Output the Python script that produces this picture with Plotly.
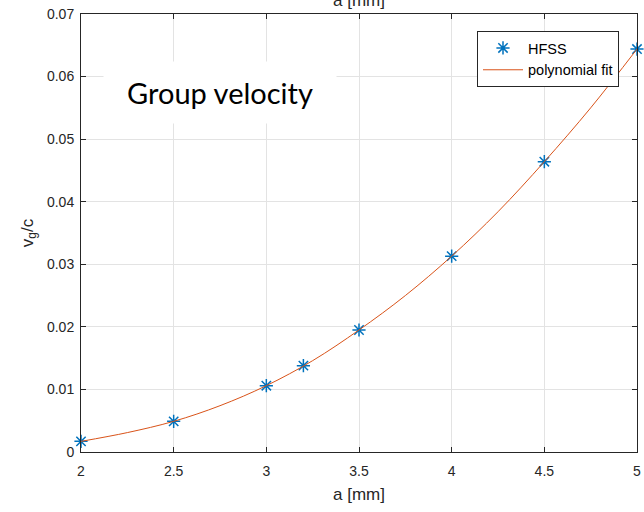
import plotly.graph_objects as go

# HFSS data points
a_mm = [2.0, 2.5, 3.0, 3.2, 3.5, 4.0, 4.5, 5.0]
vg_c = [0.0017, 0.0049, 0.0106, 0.0138, 0.0195, 0.0313, 0.0464, 0.0644]

# polynomial fit curve
fit_a = [2.0, 2.25, 2.5, 2.75, 3.0, 3.25, 3.5, 3.75, 4.0, 4.25, 4.5, 4.75, 5.0]
fit_v = [0.0017, 0.0031, 0.0049, 0.0074, 0.0106, 0.0146, 0.0195, 0.0250, 0.0313, 0.0384, 0.0464, 0.0550, 0.0644]

x_ticks = [2, 2.5, 3, 3.5, 4, 4.5, 5]
x_tick_text = ["2", "2.5", "3", "3.5", "4", "4.5", "5"]
y_ticks = [0, 0.01, 0.02, 0.03, 0.04, 0.05, 0.06, 0.07]
y_tick_text = ["0", "0.01", "0.02", "0.03", "0.04", "0.05", "0.06", "0.07"]

W, H = 644, 512
L, R, T, B = 81, 7, 14, 60
pw, ph = W - L - R, H - T - B

fig = go.Figure()
fig.add_trace(go.Scatter(
    x=a_mm, y=vg_c, mode="markers", name="HFSS",
    marker=dict(symbol="asterisk-open", size=11, color="#0072BD",
                line=dict(color="#0072BD", width=1.5)),
    cliponaxis=False,
))
fig.add_trace(go.Scatter(
    x=fit_a, y=fit_v, mode="lines", name="polynomial fit",
    line=dict(color="#D95319", width=1, shape="spline"),
))

axis_common = dict(
    showline=True, linecolor="#262626", linewidth=1, mirror="ticks",
    ticks="inside", ticklen=5, tickcolor="#262626",
    showgrid=True, gridcolor="#e3e3e3", gridwidth=1,
    zeroline=False, automargin=False, ticklabeloverflow="allow",
    tickfont=dict(family="Liberation Sans, Arial", size=14, color="#262626"),
)

fig.update_xaxes(range=[2, 5], tickvals=x_ticks, ticktext=x_tick_text,
                 ticklabelstandoff=6,
                 title=dict(text="a [mm]", font=dict(family="Liberation Sans, Arial", size=17, color="#262626"), standoff=10),
                 **axis_common)
fig.update_yaxes(range=[0, 0.07], tickvals=y_ticks, ticktext=y_tick_text,
                 ticklabelstandoff=3,
                 title=dict(text="v<sub>g</sub>/c", font=dict(family="Liberation Sans, Arial", size=17, color="#262626"), standoff=9),
                 **axis_common)

fig.add_annotation(
    xref="paper", yref="paper", x=(220 - L) / pw, y=(H - B - 92) / ph,
    text="Group velocity", showarrow=False,
    font=dict(family="Lato, Open Sans", size=29, color="black"),
    bgcolor="white", width=230, height=59, xanchor="center", yanchor="middle",
)
# top (cut-off) axis label
fig.add_annotation(
    xref="paper", yref="paper", x=0.5, y=1, yshift=14,
    text="a [mm]", showarrow=False, yanchor="middle",
    font=dict(family="Liberation Sans, Arial", size=17, color="#262626"),
)

fig.update_layout(
    width=W, height=H,
    margin=dict(l=L, r=R, t=T, b=B, autoexpand=False),
    paper_bgcolor="white", plot_bgcolor="white",
    showlegend=True,
    legend=dict(x=(477 - L) / pw, y=(H - B - 31) / ph, xanchor="left", yanchor="top",
                bgcolor="white", bordercolor="#262626", borderwidth=1,
                font=dict(family="Liberation Sans, Arial", size=14.5, color="black"),
                tracegroupgap=0, itemwidth=40),
)

fig.write_html("out.html", config={"displayModeBar": False},
               post_script="document.body.style.margin='0';")
